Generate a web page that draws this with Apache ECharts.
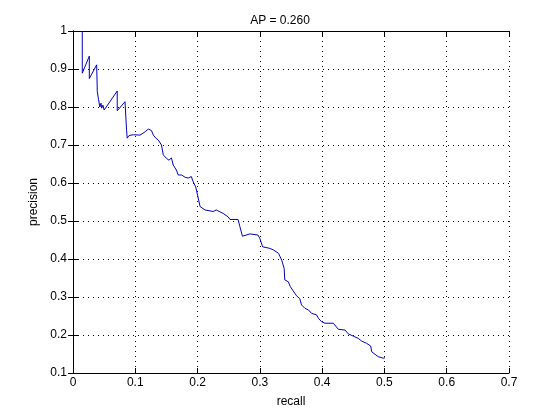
<!DOCTYPE html>
<html>
<head>
<meta charset="utf-8">
<script src="https://cdn.jsdelivr.net/npm/echarts@6/dist/echarts.min.js"></script>
<style>html,body{margin:0;padding:0;background:#fff;}#c{width:560px;height:419px;}</style>
</head>
<body>
<div id="c"></div>
<script>
const titleText = 'AP = 0.260';
const xName = 'recall';
const yName = 'precision';
const recall = [0.0149,0.0149,0.0262,0.0262,0.038,0.039,0.041,0.043,0.045,0.046,0.048,0.050,0.071,0.071,0.0835,0.086,0.087,0.090,0.093,0.097,0.100,0.1076,0.116,0.121,0.1225,0.126,0.129,0.133,0.137,0.142,0.145,0.150,0.154,0.158,0.161,0.166,0.169,0.1745,0.180,0.185,0.19,0.193,0.197,0.2,0.204,0.212,0.225,0.23,0.236,0.241,0.249,0.252,0.265,0.268,0.272,0.284,0.297,0.300,0.3045,0.316,0.3216,0.33,0.335,0.339,0.340,0.3457,0.349,0.356,0.359,0.364,0.367,0.3725,0.378,0.383,0.391,0.394,0.399,0.4046,0.418,0.4206,0.426,0.4367,0.442,0.45,0.458,0.4635,0.4715,0.478,0.4795,0.485,0.490,0.498,0.501];
const precision = [1.0,0.889,0.934,0.875,0.911,0.840,0.82,0.80,0.81,0.797,0.805,0.792,0.842,0.79,0.814,0.739,0.718,0.725,0.72,0.727,0.722,0.726,0.735,0.742,0.744,0.738,0.726,0.718,0.713,0.70,0.674,0.665,0.66,0.666,0.647,0.634,0.621,0.621,0.615,0.613,0.617,0.603,0.59,0.568,0.538,0.529,0.525,0.529,0.524,0.52,0.511,0.504,0.504,0.485,0.46,0.466,0.463,0.454,0.432,0.428,0.424,0.415,0.397,0.3755,0.345,0.34,0.327,0.31,0.303,0.296,0.279,0.27,0.266,0.257,0.253,0.244,0.235,0.231,0.231,0.226,0.215,0.213,0.203,0.197,0.191,0.184,0.178,0.171,0.156,0.149,0.143,0.139,0.14];
const xMin = 0, xMax = 0.7, xStep = 0.1;
const yMin = 0.1, yMax = 1, yStep = 0.1;

const font = 'Liberation Sans, Arial, Helvetica, sans-serif';
const fmt = v => String(+v.toFixed(1));
const chart = echarts.init(document.getElementById('c'), null, {renderer: 'canvas'});
const pts = recall.map((r, i) => [r, precision[i]]);
const lineStyle = {color: '#000', width: 1};
const baseAxis = {
  axisLine: {show: true, lineStyle},
  axisTick: {show: true, inside: true, length: 5, lineStyle},
};
chart.setOption({
  backgroundColor: '#fff',
  animation: false,
  title: {text: titleText, left: 'center', top: 10, textStyle: {fontFamily: font, fontSize: 12, fontWeight: 'normal', color: '#000'}},
  grid: {left: 73, right: 51, top: 31, bottom: 46, containLabel: false},
  xAxis: [
    Object.assign({type: 'value', min: xMin, max: xMax, interval: xStep, position: 'bottom',
      name: xName, nameLocation: 'middle', nameGap: 23,
      nameTextStyle: {fontFamily: font, fontSize: 12, color: '#000'},
      axisLabel: {formatter: fmt, fontFamily: font, fontSize: 12, color: '#000', margin: 4},
      splitLine: {show: true, lineStyle: {color: '#000', type: [1, 4], width: 1}}}, baseAxis),
    Object.assign({type: 'value', min: xMin, max: xMax, interval: xStep, position: 'top',
      axisLabel: {show: false}, splitLine: {show: false}}, baseAxis)
  ],
  yAxis: [
    Object.assign({type: 'value', min: yMin, max: yMax, interval: yStep, position: 'left',
      name: yName, nameLocation: 'middle', nameGap: 32, nameRotate: 90,
      nameTextStyle: {fontFamily: font, fontSize: 12, color: '#000'},
      axisLabel: {formatter: fmt, fontFamily: font, fontSize: 12, color: '#000', margin: 6},
      splitLine: {show: true, lineStyle: {color: '#000', type: [1, 4], width: 1}}}, baseAxis),
    Object.assign({type: 'value', min: yMin, max: yMax, interval: yStep, position: 'right',
      axisLabel: {show: false}, splitLine: {show: false}}, baseAxis)
  ],
  series: [{
    type: 'line', data: pts, xAxisIndex: 0, yAxisIndex: 0,
    showSymbol: false, symbol: 'none',
    lineStyle: {color: '#0000c0', width: 1}
  }]
});
</script>
</body>
</html>
